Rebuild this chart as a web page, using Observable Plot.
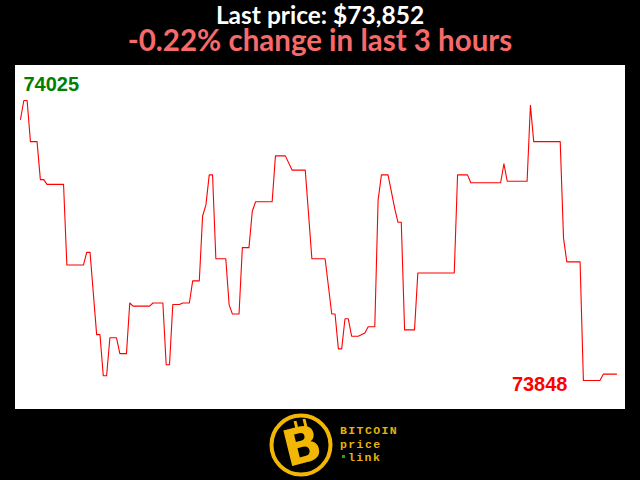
<!DOCTYPE html>
<html>
<head>
<meta charset="utf-8">
<script src="https://cdn.jsdelivr.net/npm/d3@7"></script>
<script src="https://cdn.jsdelivr.net/npm/@observablehq/plot@0.6"></script>
<style>
  html, body { margin: 0; padding: 0; background: #000; }
  body { width: 640px; height: 480px; position: relative; overflow: hidden; font-family: "Lato", "Open Sans", sans-serif; }
  #title { position: absolute; left: 0; width: 640px; top: 4px; text-align: center; color: #fff; font-weight: 700; font-size: 24.5px; line-height: 22px; }
  #sub { position: absolute; left: 0; width: 640px; top: 27px; text-align: center; color: #f86a6a; font-weight: 700; font-size: 29.5px; line-height: 26px; }
  #chart { position: absolute; left: 15px; top: 65px; }
  #logo { position: absolute; left: 262px; top: 410px; }
</style>
</head>
<body>
<div id="title"></div>
<div id="sub"></div>
<div id="chart"></div>
<svg id="logo" width="150" height="70" viewBox="0 0 150 70">
  <circle cx="39" cy="35" r="29.5" fill="#000" stroke="#f2b705" stroke-width="4"/>
  <text x="40" y="53" text-anchor="middle" font-family="DejaVu Sans" font-weight="bold" font-size="50" fill="#f2b705" transform="rotate(-14 40 35)">B</text>
  <line x1="33" y1="11" x2="35" y2="19" stroke="#f2b705" stroke-width="3"/>
  <line x1="42" y1="9" x2="44" y2="17" stroke="#f2b705" stroke-width="3"/>
  <text x="78" y="24" font-family="Liberation Mono" font-weight="bold" font-size="11.5" letter-spacing="1.4" fill="#e8b30a">BITCOIN</text>
  <text x="78" y="37.5" font-family="Liberation Mono" font-weight="bold" font-size="11.5" letter-spacing="1.4" fill="#e8b30a">price</text>
  <rect x="80" y="45" width="3" height="3" fill="#1fa31f"/>
  <text x="86" y="51" font-family="Liberation Mono" font-weight="bold" font-size="11.5" letter-spacing="1.4" fill="#e8b30a">link</text>
</svg>
<script>
// Minutes since start of the 3-hour window (turning points of the trace)
const minutes = [0,1,2,3,5,6,7,8,13,14,19,20,21,23,24,25,26,27,29,30,32,33,34,39,40,43,44,45,46,48,49,51,52,54,55,56,57,58,59,62,63,64,66,67,69,70,71,76,77,80,82,86,88,92,94,95,96,97,98,99,100,102,104,105,107,108,109,111,113,114,115,116,119,120,131,132,135,136,145,146,147,153,154,155,163,164,165,169,170,175,176,180];
// BTC price (USD) at those minutes
const prices = [74013,74025,74025,73999,73999,73975,73975,73972,73972,73921,73921,73929,73929,73877,73877,73851,73851,73875,73875,73865,73865,73897,73895,73895,73897,73897,73858,73858,73896,73896,73897,73897,73911,73911,73952,73959,73978,73978,73925,73925,73896,73890,73890,73932,73932,73955,73961,73961,73990,73990,73981,73981,73925,73925,73890,73890,73868,73868,73887,73887,73876,73876,73878,73882,73882,73962,73978,73978,73957,73948,73948,73880,73880,73916,73916,73978,73978,73973,73973,73985,73974,73974,74022,73999,73999,73938,73923,73923,73848,73848,73852,73852];

const highLabel = "74025";
const lowLabel = "73848";
const titleText = "Last price: $73,852";
const subText = "-0.22% change in last 3 hours";

document.getElementById("title").textContent = titleText;
document.getElementById("sub").textContent = subText;

const data = minutes.map((m, i) => ({ m, p: prices[i] }));

const chart = Plot.plot({
  width: 610,
  height: 344,
  marginLeft: 5,
  marginRight: 9,
  marginTop: 35,
  marginBottom: 29,
  style: { background: "#fff", overflow: "visible" },
  x: { domain: [0, 180], axis: null },
  y: { domain: [73848, 74025], axis: null },
  marks: [
    Plot.line(data, { x: "m", y: "p", stroke: "#ff0000", strokeWidth: 1.1 }),
    Plot.text([highLabel], { text: d => d, frameAnchor: "top-left", textAnchor: "start", lineAnchor: "middle", dx: 3, dy: -16, fill: "#008000", fontSize: 20, fontWeight: "bold", fontFamily: "Liberation Sans, Arial, sans-serif" }),
    Plot.text([lowLabel], { text: d => d, frameAnchor: "bottom-right", textAnchor: "end", lineAnchor: "middle", dx: -49, dy: 4, fill: "#ff0000", fontSize: 20, fontWeight: "bold", fontFamily: "Liberation Sans, Arial, sans-serif" })
  ]
});
document.getElementById("chart").appendChild(chart);
</script>
</body>
</html>
